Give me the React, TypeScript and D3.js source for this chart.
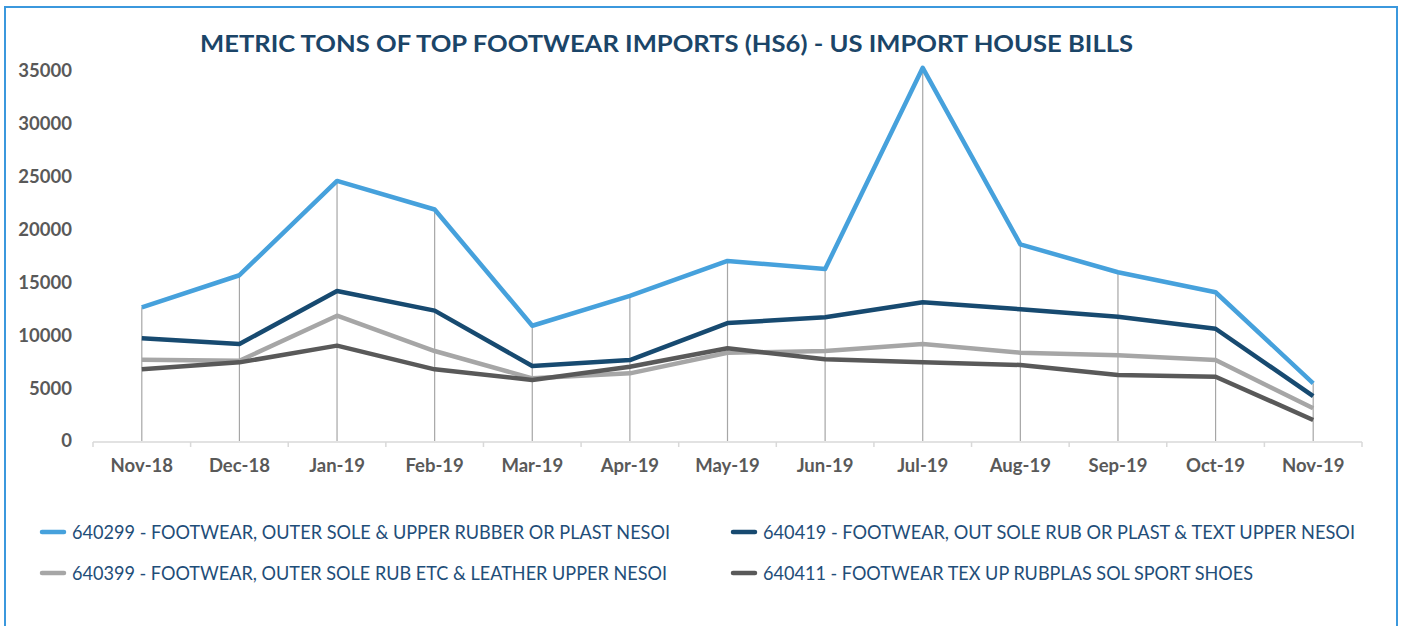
import React from "react";
import * as d3 from "d3";

const months = ["Nov-18","Dec-18","Jan-19","Feb-19","Mar-19","Apr-19","May-19","Jun-19","Jul-19","Aug-19","Sep-19","Oct-19","Nov-19"];
const s640299 = [12650,15680,24600,21900,10900,13720,17030,16270,35300,18600,15960,14070,5460];
const s640419 = [9710,9170,14190,12330,7090,7660,11160,11700,13120,12460,11760,10620,4250];
const s640399 = [7690,7590,11850,8510,5930,6400,8350,8510,9180,8350,8100,7660,3090];
const s640411 = [6780,7440,9020,6780,5770,7030,8770,7730,7440,7190,6240,6080,1990];
const yTicks = [0,5000,10000,15000,20000,25000,30000,35000];

const series = [
  { name: "640299 - FOOTWEAR, OUTER SOLE & UPPER RUBBER OR PLAST NESOI", values: s640299, color: "#46a1dc", lx: 40, ly: 532, tl: 598 },
  { name: "640419 - FOOTWEAR, OUT SOLE RUB OR PLAST & TEXT UPPER NESOI", values: s640419, color: "#174a70", lx: 731, ly: 532, tl: 592 },
  { name: "640399 - FOOTWEAR, OUTER SOLE RUB ETC & LEATHER UPPER NESOI", values: s640399, color: "#a6a6a6", lx: 40, ly: 573, tl: 595 },
  { name: "640411 - FOOTWEAR TEX UP RUBPLAS SOL SPORT SHOES", values: s640411, color: "#595959", lx: 731, ly: 573, tl: 490 },
];

export default function App() {
  const x = d3.scaleBand<string>().domain(months).range([93, 1362]).padding(0);
  const y = d3.scaleLinear().domain([0, 35000]).range([441, 71]);
  const cx = (m: string) => (x(m) as number) + x.bandwidth() / 2;
  const line = d3.line<number>().x((_, i) => cx(months[i])).y((v) => y(v));
  const boundaries = months.map((m) => x(m) as number).concat([1362]);
  const font = "Lato, 'Open Sans', sans-serif";

  return (
    <svg width={1401} height={626} style={{ position: "absolute", left: 0, top: 0, background: "#fff" }}>
      <rect x={5} y={7} width={1392} height={640} fill="#fff" stroke="#3b98dd" strokeWidth={2} />
      <text x={200} y={52} textLength={933} lengthAdjust="spacingAndGlyphs" fontFamily={font} fontWeight={700} fontSize={23} fill="#1b4568">
        METRIC TONS OF TOP FOOTWEAR IMPORTS (HS6) - US IMPORT HOUSE BILLS
      </text>
      {yTicks.map((t) => (
        <text key={t} x={72} y={y(t)} dy="0.35em" textAnchor="end" fontFamily={font} fontWeight={700} fontSize={18.5} fill="#595959">
          {t}
        </text>
      ))}
      {/* drop lines */}
      {months.map((m, i) => {
        const top = Math.max(s640299[i], s640419[i], s640399[i], s640411[i]);
        return <line key={m} x1={cx(m)} x2={cx(m)} y1={y(top)} y2={y(0)} stroke="#a6a6a6" strokeWidth={1.2} />;
      })}
      {/* x axis */}
      <line x1={93} x2={1362} y1={442} y2={442} stroke="#d9d9d9" strokeWidth={1.5} />
      {boundaries.map((b, i) => (
        <line key={i} x1={b} x2={b} y1={442} y2={447} stroke="#d9d9d9" strokeWidth={1.5} />
      ))}
      {months.map((m) => (
        <text key={m} x={cx(m)} y={466} dy="0.35em" textAnchor="middle" fontFamily={font} fontWeight={700} fontSize={18.5} fill="#595959">
          {m}
        </text>
      ))}
      {series.map((s) => (
        <path key={s.name} d={line(s.values) || ""} fill="none" stroke={s.color} strokeWidth={4.5} strokeLinejoin="round" />
      ))}
      {series.map((s) => (
        <g key={"lg" + s.name}>
          <line x1={s.lx + 2} x2={s.lx + 24} y1={s.ly} y2={s.ly} stroke={s.color} strokeWidth={4.5} strokeLinecap="round" />
          <text x={s.lx + 32} y={s.ly} dy="0.36em" textLength={s.tl} lengthAdjust="spacingAndGlyphs" fontFamily={font} fontSize={19} fill="#1f4e79">
            {s.name}
          </text>
        </g>
      ))}
    </svg>
  );
}
